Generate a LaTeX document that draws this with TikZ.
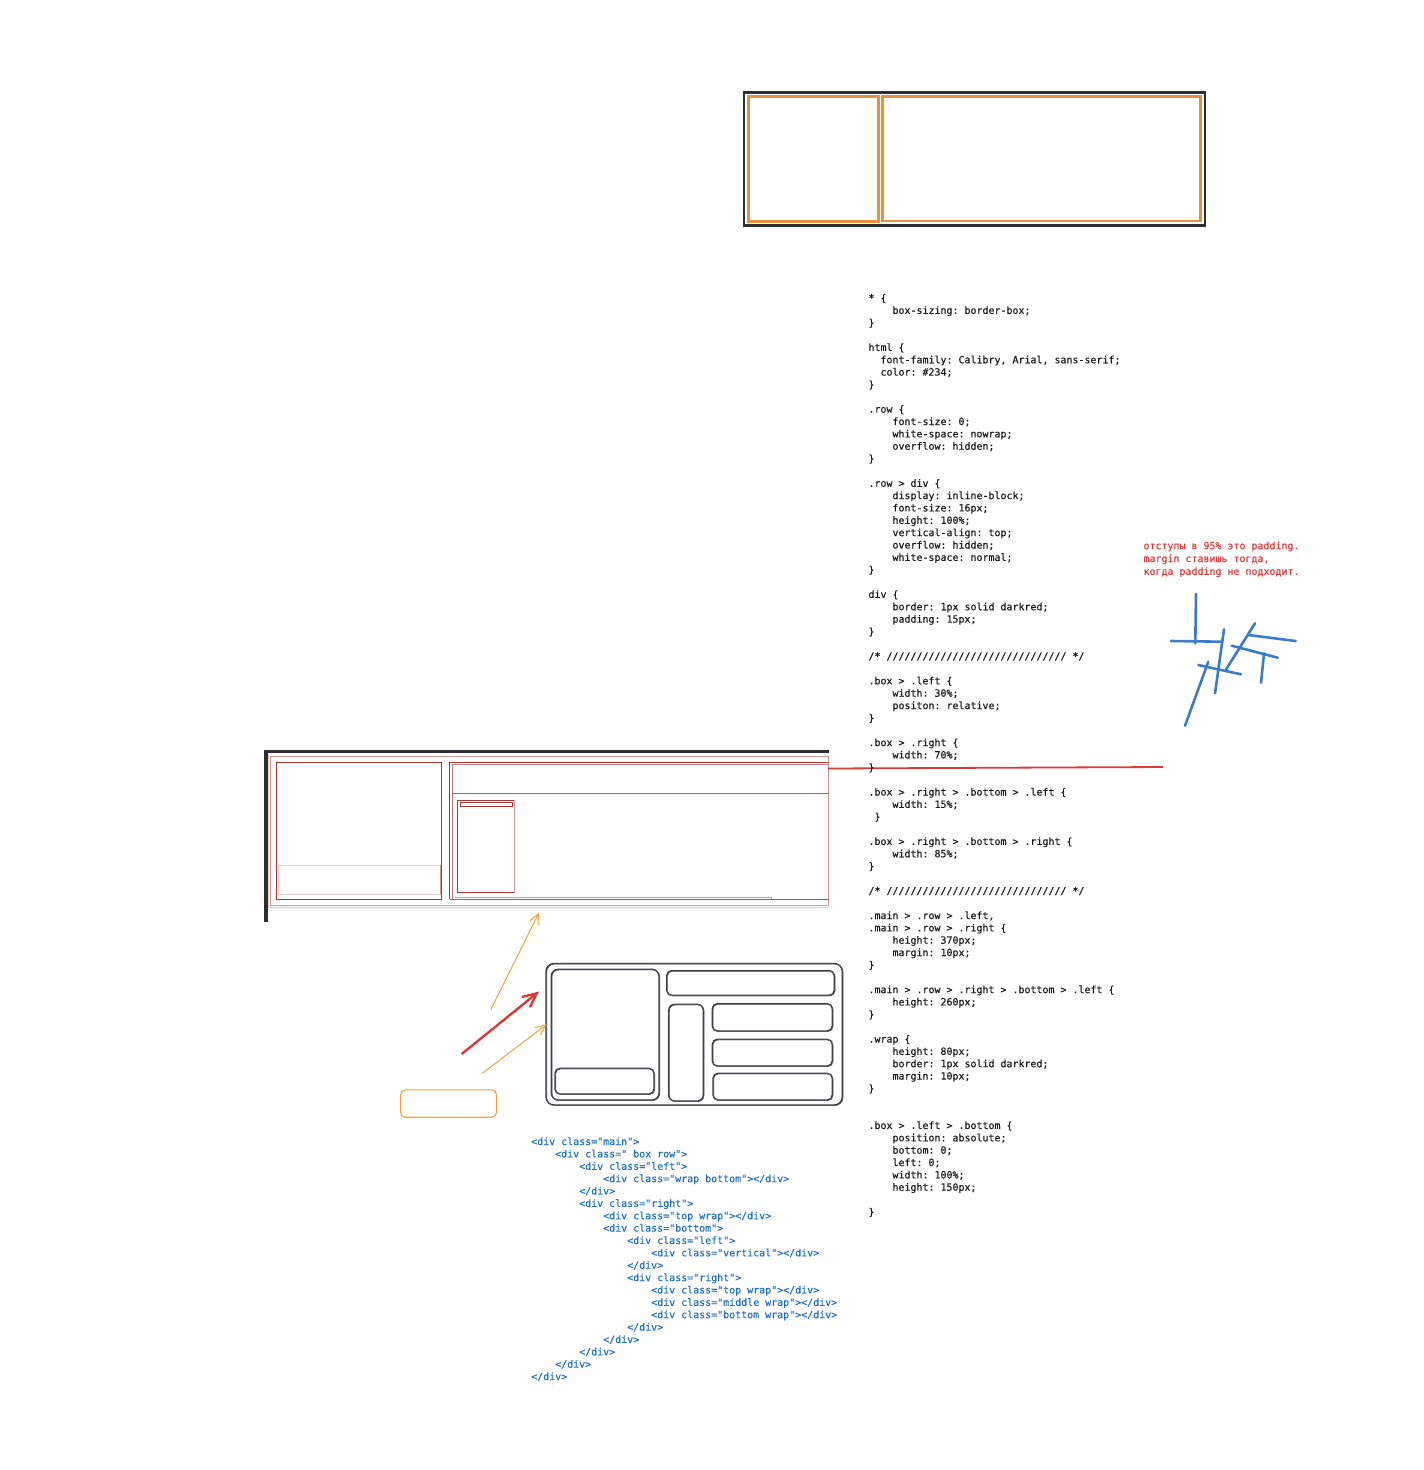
\documentclass[tikz,border=0pt]{standalone}
\usepackage{fontspec}
\setmonofont{DejaVu Sans Mono}[FakeBold=0.35]
\usetikzlibrary{arrows.meta}
\definecolor{ink}{HTML}{1A1A1A}
\definecolor{sk}{HTML}{343A40}
\definecolor{org}{HTML}{E8913A}
\definecolor{arrorg}{HTML}{F2A23C}
\definecolor{redd}{HTML}{D93A36}
\definecolor{codeblue}{HTML}{1F6FC5}
\definecolor{drk}{HTML}{A83232}
\definecolor{pnk}{HTML}{D49595}
\definecolor{pnkl}{HTML}{EBCACA}
\definecolor{scrib}{HTML}{3A7BCB}
\definecolor{frame}{HTML}{2B2F33}
\newdimen\cw \cw=6pt
\newcommand\In[1]{\hspace*{#1\cw}}
\newcommand\skrect[5]{%
  \draw[skline, rounded corners=#5] (#1,#2) rectangle (#3,#4);
  \draw[skline2, rounded corners=#5, xshift=0.6pt, yshift=-0.5pt] (#1,#2) rectangle (#3,#4);}
\tikzset{
  code/.style={inner sep=0, anchor=base west, font=\ttfamily\fontsize{9.965pt}{12pt}\selectfont},
  skline/.style={draw=sk, line width=1.4pt},
  skline2/.style={draw=sk!85, line width=0.8pt},
  thinr/.style={line width=0.9pt},
  scr/.style={scrib, line width=2.6pt, line cap=round},
  oarrow/.style={arrorg, line width=1pt, -{Straight Barb[length=10pt,width=9pt]}},
  rarrow/.style={redd, line width=2.4pt, -{Straight Barb[length=14pt,width=13pt]}}
}
\begin{document}
\begin{tikzpicture}[x=1pt,y=-1pt]
\useasboundingbox (0,0) rectangle (1424,1470);

% ---------- top box ----------
\draw[frame, line width=2.6pt] (744,92.5) rectangle (1205,225.5);
\draw[org, line width=2.8pt] (748.3,96.8) rectangle (878.8,221.8);
\draw[org, line width=2.8pt] (882.8,96.8) rectangle (1200.3,221);

% ---------- rendered page screenshot ----------
\draw[pnkl, thinr] (268,754) -- (268,907.3) -- (828.5,907.3);
\draw[pnk, thinr] (270.5,756) rectangle (828.5,905);
\draw[drk, thinr] (276.5,762.3) rectangle (441.5,899.3);
\draw[pnkl, thinr] (278.5,865) rectangle (440,894);
\draw[pnk, thinr] (440,865) -- (440,894);
\draw[drk, thinr] (449.5,899.3) -- (449.5,762.3) -- (828.5,762.3);
\draw[pnk!70!drk, thinr] (452,899.3) -- (452,764.6) -- (828.5,764.6);
\draw[drk!80, thinr] (452,793.3) -- (828.5,793.3);
\draw[drk!85, thinr] (449.5,899.3) -- (828.5,899.3);
\draw[drk, thinr] (514.3,800.3) -- (457.8,800.3) -- (457.8,892.7) -- (514.3,892.7);
\draw[pnk, thinr] (514.3,800.3) -- (514.3,892.7);
\draw[drk, thinr] (460.3,802) rectangle (512.2,806.5);
\draw[pnk, thinr] (454.8,897) -- (771,897) -- (771,898.6);
\draw[frame, line width=3.6pt] (264,751.5) -- (829,751.5);
\draw[frame, line width=3.6pt] (266,749.7) -- (266,921.5);

% red line
\coordinate (rl1) at (828,768.5);
\coordinate (rl2) at (1163,767);
\draw[redd, line width=1.8pt] (rl1) -- (rl2);

% ---------- hand sketch ----------
\skrect{546}{963.5}{842.3}{1105}{8pt}
\skrect{551.3}{969.3}{659}{1100}{7pt}
\skrect{555}{1068.3}{654}{1094}{5pt}
\skrect{666.7}{970.7}{834.3}{995.3}{5pt}
\skrect{668.7}{1004.3}{703.3}{1101}{6pt}
\skrect{712.3}{1003.7}{832.3}{1031}{5pt}
\skrect{712.3}{1039.3}{832.3}{1066}{5pt}
\skrect{713}{1073.3}{832.3}{1100}{5pt}

% orange note box
\node[draw=arrorg, line width=1.1pt, rounded corners=5pt, minimum width=96pt,
      minimum height=27.4pt, anchor=north west, inner sep=0] (note) at (400,1089.3) {};

% arrows
\coordinate (a1s) at (491,1009.3);  \coordinate (a1e) at (539,912.7);
\coordinate (a2s) at (461.7,1054);  \coordinate (a2e) at (539,991.5);
\coordinate (a3s) at (482.3,1073.3);\coordinate (a3e) at (546.7,1024.3);
\draw[oarrow] (a1s) -- (a1e);
\draw[rarrow] (a2s) -- (a2e);
\draw[oarrow] (a3s) -- (a3e);

% blue scribble
\draw[scr] (1196,594) -- (1195.3,643.3);
\draw[scr] (1171,641) -- (1222.3,641.7);
\draw[scr] (1224,629.3) -- (1215,693.3);
\draw[scr] (1255,623.3) -- (1225.7,670);
\draw[scr] (1248.3,635) -- (1295.7,641);
\draw[scr] (1231.7,645.7) -- (1277.7,657.7);
\draw[scr] (1264,653.3) -- (1261,682.7);
\draw[scr] (1198.3,665) -- (1241,674.3);
\draw[scr] (1208.3,661.7) -- (1185,725.7);

% ---------- CSS code ----------
\foreach \t [count=\i] in {
{* \{},
{\In{4}box-sizing: border-box;},
{\}},
{},
{html \{},
{\In{2}font-family: Calibry, Arial, sans-serif;},
{\In{2}color: \#234;},
{\}},
{},
{.row \{},
{\In{4}font-size: 0;},
{\In{4}white-space: nowrap;},
{\In{4}overflow: hidden;},
{\}},
{},
{.row > div \{},
{\In{4}display: inline-block;},
{\In{4}font-size: 16px;},
{\In{4}height: 100\%;},
{\In{4}vertical-align: top;},
{\In{4}overflow: hidden;},
{\In{4}white-space: normal;},
{\}},
{},
{div \{},
{\In{4}border: 1px solid darkred;},
{\In{4}padding: 15px;},
{\}},
{},
{/* ////////////////////////////// */},
{},
{.box > .left \{},
{\In{4}width: 30\%;},
{\In{4}positon: relative;},
{\}},
{},
{.box > .right \{},
{\In{4}width: 70\%;},
{\}},
{},
{.box > .right > .bottom > .left \{},
{\In{4}width: 15\%;},
{\In{1}\}},
{},
{.box > .right > .bottom > .right \{},
{\In{4}width: 85\%;},
{\}},
{},
{/* ////////////////////////////// */},
{},
{.main > .row > .left,},
{.main > .row > .right \{},
{\In{4}height: 370px;},
{\In{4}margin: 10px;},
{\}},
{},
{.main > .row > .right > .bottom > .left \{},
{\In{4}height: 260px;},
{\}},
{},
{.wrap \{},
{\In{4}height: 80px;},
{\In{4}border: 1px solid darkred;},
{\In{4}margin: 10px;},
{\}},
{},
{},
{.box > .left > .bottom \{},
{\In{4}position: absolute;},
{\In{4}bottom: 0;},
{\In{4}left: 0;},
{\In{4}width: 100\%;},
{\In{4}height: 150px;},
{},
{\}}}
{\node[code, text=ink] (css\i) at (868.3,{301.5+(\i-1)*12.35}) {\t};}

% ---------- HTML code ----------
\foreach \t [count=\i] in {
{<div class="main">},
{\In{4}<div class=" box row">},
{\In{8}<div class="left">},
{\In{12}<div class="wrap bottom"></div>},
{\In{8}</div>},
{\In{8}<div class="right">},
{\In{12}<div class="top wrap"></div>},
{\In{12}<div class="bottom">},
{\In{16}<div class="left">},
{\In{20}<div class="vertical"></div>},
{\In{16}</div>},
{\In{16}<div class="right">},
{\In{20}<div class="top wrap"></div>},
{\In{20}<div class="middle wrap"></div>},
{\In{20}<div class="bottom wrap"></div>},
{\In{16}</div>},
{\In{12}</div>},
{\In{8}</div>},
{\In{4}</div>},
{</div>}}
{\node[code, text=codeblue] (html\i) at (531,{1145+(\i-1)*12.37}) {\t};}

% ---------- Russian note ----------
\foreach \t [count=\i] in {
{отступы в 95\% это padding.},
{margin ставишь тогда,},
{когда padding не подходит.}}
{\node[code, text=redd] (ru\i) at (1143.3,{549.2+(\i-1)*12.85}) {\t};}
\end{tikzpicture}
\end{document}
